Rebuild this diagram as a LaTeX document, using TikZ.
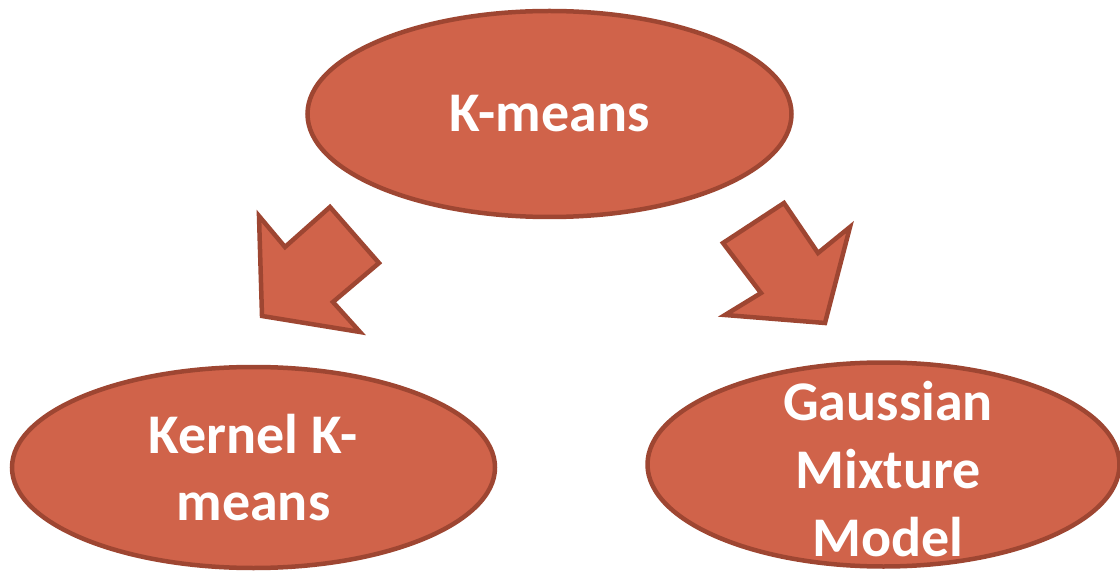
\documentclass[tikz,border=0pt]{standalone}
\usepackage{fontspec}
\setmainfont{Carlito}
\usetikzlibrary{shapes.geometric}
\definecolor{shapefill}{RGB}{208,99,74}
\definecolor{shapeline}{RGB}{158,70,50}
\tikzset{
  oval/.style={ellipse, draw=shapeline, fill=shapefill, line width=4.5pt, inner sep=0pt,
    text=white, font=\fontsize{56}{67}\selectfont\bfseries, align=center},
  ovaltext/.style={text=white, font=\fontsize{56}{68}\selectfont\bfseries, align=center, inner sep=0pt},
  blockarrow/.style={draw=shapeline, fill=shapefill, line width=4.5pt, line join=miter}
}
\begin{document}
\begin{tikzpicture}[x=1pt,y=-1pt]
\useasboundingbox (0,0) rectangle (1120,572);
\node[oval, minimum width=484pt, minimum height=206pt] (km) at (549.5,114) {K-means};
\node[oval, minimum width=483pt, minimum height=201pt] (kk) at (253.5,467.5) {Kernel K-\\means};
\node[oval, minimum width=472pt, minimum height=204pt] (gmm) at (883.5,464.5) {};
\node[ovaltext] (gmmtext) at (888,469) {Gaussian\\Mixture\\Model};
% left block arrow
\draw[blockarrow] (259,216) -- (285,247) -- (330,207) -- (379,263) -- (333,302) -- (360,332) -- (262,316) -- cycle;
% right block arrow
\draw[blockarrow] (723,243) -- (784,203) -- (818,253) -- (850,227) -- (825,323) -- (725,315) -- (761,293) -- cycle;
\end{tikzpicture}
\end{document}
